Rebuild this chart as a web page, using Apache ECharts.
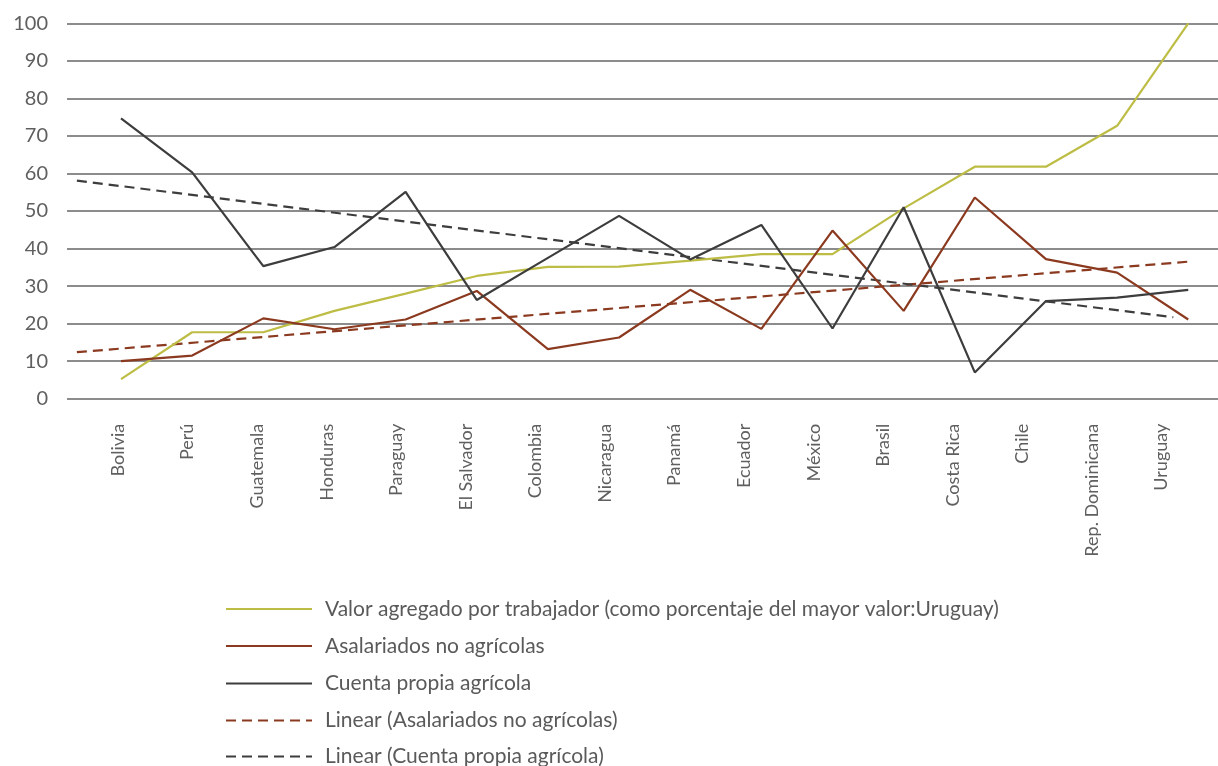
<!DOCTYPE html>
<html>
<head>
<meta charset="utf-8">
<script src="https://cdn.jsdelivr.net/npm/echarts@6/dist/echarts.min.js"></script>
<style>html,body{margin:0;padding:0;background:#fff}#c{width:1218px;height:766px}</style>
</head>
<body>
<div id="c"></div>
<script>
const categories = ['Bolivia','Perú','Guatemala','Honduras','Paraguay','El Salvador','Colombia','Nicaragua','Panamá','Ecuador','México','Brasil','Costa Rica','Chile','Rep. Dominicana','Uruguay'];
const valorAgregado = [5.2,17.7,17.7,23.4,28.0,32.7,35.1,35.2,36.8,38.5,38.5,50.7,61.8,61.8,72.7,100];
const asalariados = [10.0,11.5,21.4,18.5,21.1,28.7,13.2,16.3,29.0,18.6,44.8,23.4,53.6,37.2,33.6,21.1];
const cuentaPropia = [74.7,60.3,35.3,40.4,55.1,26.3,37.5,48.7,37.1,46.3,18.7,51.0,7.0,26.0,26.9,29.0];
// linear trend lines as drawn (start and end, x in category index units)
const trendAsalariadosX = [-0.62, 15.0];
const trendAsalariadosY = [12.4, 36.5];
const trendCuentaX = [-0.62, 14.79];
const trendCuentaY = [58.1, 21.7];
const yTicks = [0,10,20,30,40,50,60,70,80,90,100];

const names = [
  'Valor agregado por trabajador (como porcentaje del mayor valor:Uruguay)',
  'Asalariados no agrícolas',
  'Cuenta propia agrícola',
  'Linear (Asalariados no agrícolas)',
  'Linear (Cuenta propia agrícola)'
];
const FONT = 'Lato, "Open Sans", sans-serif';
const pts = arr => arr.map((v, i) => [i, v]);
const pairs = (xs, ys) => xs.map((x, i) => [x, ys[i]]);

function lineSeries(name, data, color, dashed, z) {
  return {
    name: name, type: 'line', xAxisIndex: 0, yAxisIndex: 0, data: data,
    symbol: 'none',
    lineStyle: {color: color, width: 2.2, type: dashed ? [10, 6] : 'solid'},
    itemStyle: {color: color, opacity: 0},
    z: z
  };
}

// one legend block per row (rows ~37px apart)
const legendRowTops = [598.5, 635.5, 673, 710, 746];
const legends = names.map((n, i) => ({
  orient: 'vertical', left: 225, top: legendRowTops[i], padding: 0,
  itemWidth: 86, itemHeight: 14,
  data: [n],
  itemStyle: {opacity: 0},
  textStyle: {fontFamily: FONT, fontSize: 21, color: '#5a5a5a', padding: [0, 0, 0, 8]}
}));

const chart = echarts.init(document.getElementById('c'), null, {renderer: 'canvas'});
chart.setOption({
  animation: false,
  backgroundColor: '#ffffff',
  grid: [
    {left: 67, right: 0, top: 23.3, bottom: 367.3, containLabel: false},
    {left: 118, right: 56.4, top: 23.3, bottom: 367.3, containLabel: false}
  ],
  xAxis: [
    {gridIndex: 0, type: 'value', min: -0.759, max: 15.418, show: false},
    {gridIndex: 1, type: 'category', data: categories, boundaryGap: false,
     axisLine: {show: false}, axisTick: {show: false}, splitLine: {show: false},
     axisLabel: {rotate: 90, margin: 25, interval: 0, fontFamily: FONT, fontSize: 18, color: '#5f5f5f'}}
  ],
  yAxis: [
    {gridIndex: 0, type: 'value', min: 0, max: 100, interval: 10,
     axisLine: {show: false}, axisTick: {show: false},
     axisLabel: {margin: 19, fontFamily: FONT, fontSize: 20, color: '#5f5f5f',
                 formatter: v => yTicks.includes(v) ? String(v) : ''},
     splitLine: {show: true, lineStyle: {color: '#8c8c8c', width: 2}}},
    {gridIndex: 1, type: 'value', min: 0, max: 100, show: false}
  ],
  legend: legends,
  series: [
    lineSeries(names[0], pts(valorAgregado), '#bdbd45', false, 3),
    lineSeries(names[1], pts(asalariados), '#8b3a20', false, 3),
    lineSeries(names[2], pts(cuentaPropia), '#3d3d3d', false, 3),
    lineSeries(names[3], pairs(trendAsalariadosX, trendAsalariadosY), '#8b3a20', true, 2),
    lineSeries(names[4], pairs(trendCuentaX, trendCuentaY), '#3d3d3d', true, 2)
  ]
});
</script>
</body>
</html>
